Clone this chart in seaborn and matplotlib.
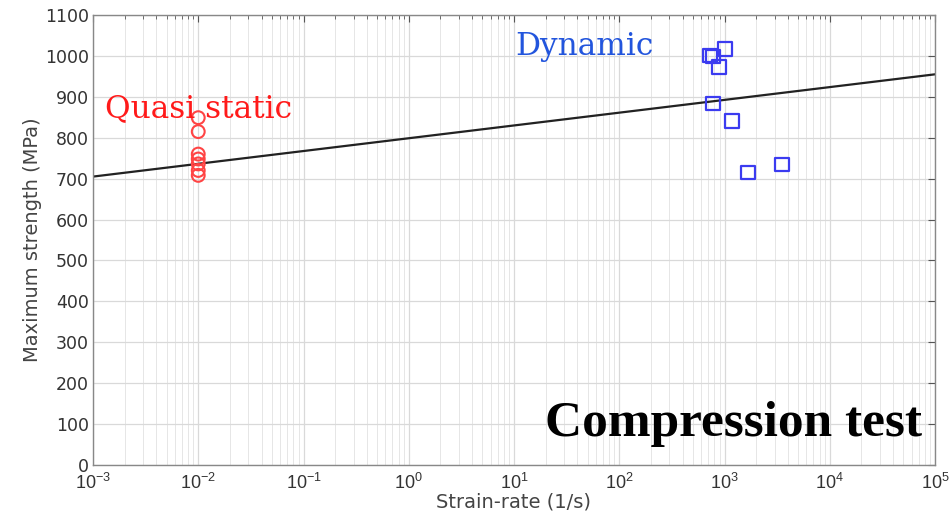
import numpy as np
import pandas as pd
import matplotlib
matplotlib.use("Agg")
import matplotlib.pyplot as plt
import seaborn as sns
from matplotlib.ticker import LogLocator, FixedLocator, NullFormatter

# Quasi-static compression tests (strain rate 1e-2 1/s)
qs_rate = [0.01, 0.01, 0.01, 0.01, 0.01, 0.01, 0.01]
qs_strength = [849, 815, 760, 748, 736, 720, 708]

# Dynamic (SHPB) compression tests
dyn_rate = [728, 778, 1012, 887, 778, 1178, 1671, 3515]
dyn_strength = [1002, 998, 1017, 973, 883, 841, 716, 735]

# Fitted trend line across the strain-rate range
fit_rate = [1e-3, 1e5]
fit_strength = [705, 955]

y_ticks = list(range(0, 1101, 100))

sns.set_theme(style="white")
plt.rcParams["font.family"] = ["DejaVu Sans"]

fig = plt.figure(figsize=(9.49, 5.12), dpi=100)
ax = fig.add_axes([93 / 949, 1 - 465 / 512, (935 - 93) / 949, (465 - 15) / 512])

qs = pd.DataFrame({"rate": qs_rate, "strength": qs_strength})
dyn = pd.DataFrame({"rate": dyn_rate, "strength": dyn_strength})
fit = pd.DataFrame({"rate": fit_rate, "strength": fit_strength})

sns.lineplot(data=fit, x="rate", y="strength", ax=ax, color="#222222", lw=1.6)
sns.scatterplot(data=qs, x="rate", y="strength", ax=ax, marker="o", s=85,
                facecolor="none", edgecolor="#ff4444", linewidth=1.5, zorder=3)
sns.scatterplot(data=dyn, x="rate", y="strength", ax=ax, marker="s", s=90,
                facecolor="none", edgecolor="#3b3bf0", linewidth=1.6, zorder=3)

ax.set_xscale("log")
ax.set_xlim(1e-3, 1e5)
ax.set_ylim(0, 1100)
ax.yaxis.set_major_locator(FixedLocator(y_ticks))
ax.xaxis.set_major_locator(LogLocator(base=10, numticks=20))
ax.xaxis.set_minor_locator(LogLocator(base=10, subs=np.arange(2, 10), numticks=100))
ax.xaxis.set_minor_formatter(NullFormatter())

ax.grid(True, which="major", color="#d9d9d9", lw=0.9)
ax.grid(True, which="minor", axis="x", color="#e6e6e6", lw=0.7)
ax.set_axisbelow(True)

ax.tick_params(which="both", direction="in", top=True, right=True,
               colors="#555555", labelcolor="#333333")
ax.tick_params(which="major", length=5, width=0.8)
ax.tick_params(which="minor", length=3, width=0.6)
ax.tick_params(axis="y", pad=3, labelsize=12.5)
ax.tick_params(axis="x", pad=6, labelsize=13, labelfontfamily="Liberation Sans")
for sp in ax.spines.values():
    sp.set_color("#888888")
    sp.set_linewidth(1.0)

ax.set_xlabel("Strain-rate (1/s)", fontsize=14, color="#444444", labelpad=-1)
ax.set_ylabel("Maximum strength (MPa)", fontsize=14, color="#444444", labelpad=2)

ax.text(0.0013, 851, "Quasi static", color="#ff1a1a", fontsize=22.5,
        family=["DejaVu Serif"], ha="left", va="baseline")
ax.text(10.2, 1002, "Dynamic", color="#2255dd", fontsize=22.5,
        family=["DejaVu Serif"], ha="left", va="baseline")
ax.text(0.537, 0.065, "Compression test", transform=ax.transAxes, color="black",
        fontsize=37, fontweight="bold", family=["Liberation Serif", "DejaVu Serif"],
        ha="left", va="baseline")

fig.savefig("out.png", dpi=100)
